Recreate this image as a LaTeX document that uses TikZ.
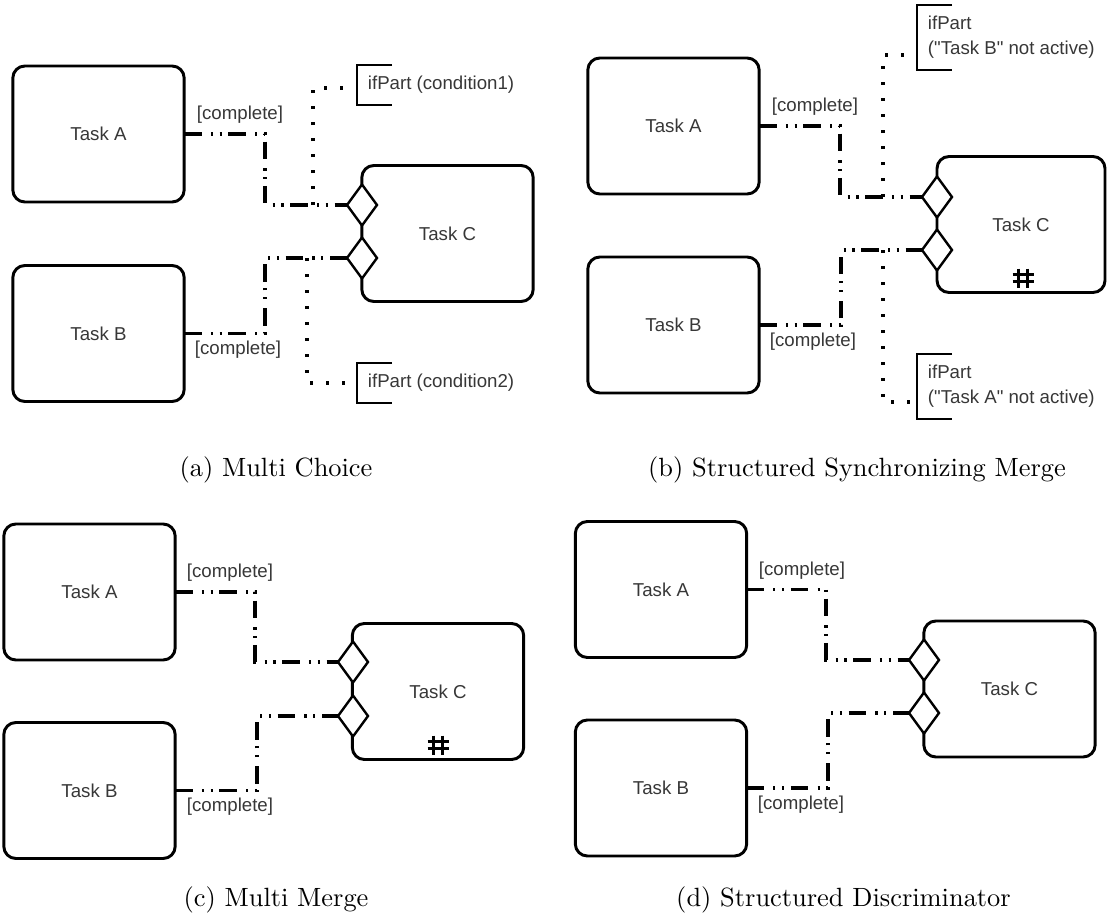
\documentclass[tikz,border=0pt]{standalone}
\usepackage{fontspec}
\usepackage{graphicx}
\usetikzlibrary{shapes.geometric,calc}
\newfontfamily\diagfam{Liberation Sans}
\newcommand\diagfont{\diagfam\fontsize{14}{18.75}\selectfont}
\newcommand\captext[1]{\scalebox{1.98}{\fontsize{10}{12}\selectfont #1}}
\definecolor{txt}{RGB}{55,55,55}
\tikzset{
  task/.style={draw, line width=2.2pt, rounded corners=9pt, fill=white,
    minimum width=128.5pt, minimum height=102pt, inner sep=0pt, outer sep=0pt,
    font=\diagfont, text=txt},
  merge/.style={draw, diamond, line width=1.8pt, fill=white,
    minimum width=22.5pt, minimum height=30.75pt, inner sep=0pt, outer sep=0pt},
  flow/.style={line width=2.3pt,
    dash pattern=on 13pt off 7pt on 1.6pt off 5pt on 1.6pt off 5pt},
  cond/.style={line width=2.3pt, dash pattern=on 2.3pt off 9.7pt},
  brk/.style={line width=1.6pt},
  lbl/.style={font=\diagfont, text=txt, inner sep=0pt},
  ifp/.style={anchor=west, font=\diagfont, text=txt, align=left,
    inner xsep=8pt, inner ysep=0pt, minimum height=30pt},
  ifptall/.style={ifp, minimum height=48.75pt},
  hashstroke/.style={line width=2.4pt},
  captionnode/.style={anchor=base, inner sep=0pt}
}
% bracket drawn along the left side of an ifPart note
\newcommand\bracket[1]{%
  \draw[brk] ([xshift=26.25pt]#1.north west) -- (#1.north west)
    -- (#1.south west) -- ([xshift=26.25pt]#1.south west);}
% multi-instance marker (#) centred on a coordinate
\newcommand\hashmark[1]{%
  \draw[hashstroke] ($(#1)+(-4.5,-9.5)$) -- ($(#1)+(-4.5,9.5)$);
  \draw[hashstroke] ($(#1)+(4.5,-9.5)$) -- ($(#1)+(4.5,9.5)$);
  \draw[hashstroke] ($(#1)+(-10.5,-3.5)$) -- ($(#1)+(10.5,-3.5)$);
  \draw[hashstroke] ($(#1)+(-10.5,3.5)$) -- ($(#1)+(10.5,3.5)$);}
\begin{document}
\begin{tikzpicture}[x=0.75pt,y=-0.75pt]
\useasboundingbox (0,0) rectangle (1107,917);

% ---------- (a) Multi Choice ----------
\node[task] (aA) at (98.5,134) {Task A};
\node[task] (aB) at (98.5,333.5) {Task B};
\node[task] (aC) at (447.5,233.5) {Task C};
\node[merge] (aM1) at (362,205) {};
\node[merge] (aM2) at (362,258) {};
\coordinate (aK1) at (265,205);
\coordinate (aK2) at (265,258);
\draw[flow] (aA.east) -| (aK1) -- (aM1.west);
\draw[flow] (aB.east) -| (aK2) -- (aM2.west);
\node[lbl] (aL1) at (240,115) {[complete]};
\node[lbl] (aL2) at (238,350) {[complete]};
\node[ifp] (aI1) at (357,85) {ifPart (condition1)};
\node[ifp] (aI2) at (357,383) {ifPart (condition2)};
\bracket{aI1}
\bracket{aI2}
\coordinate (aP1) at (313,205);
\coordinate (aQ1) at (313,88);
\coordinate (aP2) at (307,258);
\coordinate (aQ2) at (307,383);
\draw[cond] (aP1) -- (aQ1) -- (aQ1 -| aI1.west);
\draw[cond] (aP2) -- (aQ2) -- (aQ2 -| aI2.west);
\node[captionnode] (capA) at (276,476) {\captext{(a) Multi Choice}};

% ---------- (b) Structured Synchronizing Merge ----------
\node[task] (bA) at (673.5,126) {Task A};
\node[task] (bB) at (673.5,325) {Task B};
\node[task, minimum width=126pt] (bC) at (1021,224.5) {Task C};
\coordinate (bH) at (1023,278);
\hashmark{bH}
\node[merge] (bM1) at (937,197) {};
\node[merge] (bM2) at (937,250) {};
\coordinate (bK1) at (840,197);
\coordinate (bK2) at (841,250);
\draw[flow] (bA.east) -| (bK1) -- (bM1.west);
\draw[flow] (bB.east) -| (bK2) -- (bM2.west);
\node[lbl] (bL1) at (815,107) {[complete]};
\node[lbl] (bL2) at (813,342) {[complete]};
\node[ifptall] (bI1) at (917,37.5) {ifPart\\("Task B" not active)};
\node[ifptall] (bI2) at (917,386.5) {ifPart\\("Task A" not active)};
\bracket{bI1}
\bracket{bI2}
\coordinate (bP1) at (883,197);
\coordinate (bQ1) at (883,55);
\coordinate (bP2) at (883,250);
\coordinate (bQ2) at (883,402);
\draw[cond] (bP1) -- (bQ1) -- (bQ1 -| bI1.west);
\draw[cond] (bP2) -- (bQ2) -- (bQ2 -| bI2.west);
\node[captionnode] (capB) at (857,476) {\captext{(b) Structured Synchronizing Merge}};

% ---------- (c) Multi Merge ----------
\node[task] (cA) at (89.5,592) {Task A};
\node[task] (cB) at (89.5,790.5) {Task B};
\node[task] (cC) at (438,691.5) {Task C};
\coordinate (cH) at (438,745);
\hashmark{cH}
\node[merge] (cM1) at (353,662) {};
\node[merge] (cM2) at (353,716) {};
\coordinate (cK1) at (255,662);
\coordinate (cK2) at (257,716);
\draw[flow] (cA.east) -| (cK1) -- (cM1.west);
\draw[flow] (cB.east) -| (cK2) -- (cM2.west);
\node[lbl] (cL1) at (230,573) {[complete]};
\node[lbl] (cL2) at (230,807) {[complete]};
\node[captionnode] (capC) at (276,906) {\captext{(c) Multi Merge}};

% ---------- (d) Structured Discriminator ----------
\node[task] (dA) at (661,589.5) {Task A};
\node[task] (dB) at (661,788) {Task B};
\node[task] (dC) at (1009.5,689) {Task C};
\node[merge] (dM1) at (924,660) {};
\node[merge] (dM2) at (924,713) {};
\coordinate (dK1) at (826,660);
\coordinate (dK2) at (828,713);
\draw[flow] (dA.east) -| (dK1) -- (dM1.west);
\draw[flow] (dB.east) -| (dK2) -- (dM2.west);
\node[lbl] (dL1) at (802,571) {[complete]};
\node[lbl] (dL2) at (801,805) {[complete]};
\node[captionnode] (capD) at (843.5,906) {\captext{(d) Structured Discriminator}};
\end{tikzpicture}
\end{document}
